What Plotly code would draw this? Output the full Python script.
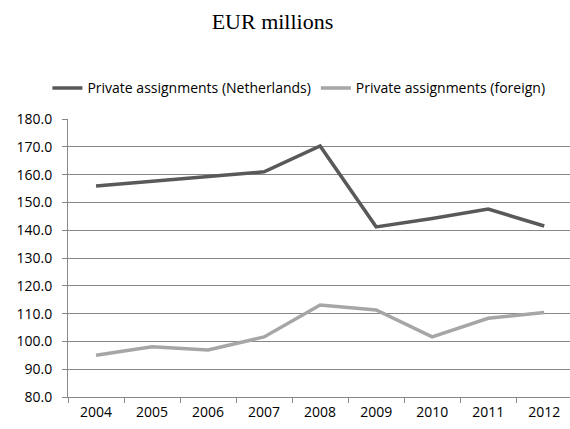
import plotly.graph_objects as go

years = ["2004", "2005", "2006", "2007", "2008", "2009", "2010", "2011", "2012"]
netherlands = [155.9, 157.6, 159.3, 161.0, 170.3, 141.2, 144.2, 147.6, 141.5]
foreign = [95.0, 98.1, 96.9, 101.6, 113.1, 111.3, 101.6, 108.3, 110.4]

series_names = ["Private assignments (Netherlands)", "Private assignments (foreign)"]
series_colors = ["#595959", "#a6a6a6"]

fig = go.Figure()
for name, vals, col in zip(series_names, [netherlands, foreign], series_colors):
    fig.add_trace(go.Scatter(
        x=years, y=vals, mode="lines", name=name,
        line=dict(color=col, width=3.5),
    ))

grid = "#878787"
fig.update_layout(
    width=570, height=429,
    margin=dict(l=68, r=0, t=119, b=32),
    paper_bgcolor="white", plot_bgcolor="white",
    title=dict(text="EUR millions", x=0.478, xanchor="center", y=0.95, yanchor="middle",
               font=dict(family="Liberation Serif", size=22, color="#000000")),
    font=dict(family="Open Sans", size=14, color="#000000"),
    legend=dict(orientation="h", x=0.46, xanchor="center", y=1.11, yanchor="middle",
                font=dict(size=14), itemwidth=30, tracegroupgap=0),
    showlegend=True,
)
fig.update_xaxes(
    type="category", range=[-0.5, 8.46],
    showline=True, linecolor=grid, linewidth=1,
    ticks="outside", tickson="boundaries", ticklen=5, tickcolor=grid,
    showgrid=False, zeroline=False, ticklabelstandoff=2,
)
fig.update_yaxes(
    range=[80, 180], dtick=10, tickformat=".1f",
    showline=True, linecolor=grid, linewidth=1,
    ticks="outside", ticklen=5, tickcolor=grid,
    showgrid=True, gridcolor=grid, gridwidth=1, zeroline=False,
    ticklabelstandoff=7,
)

fig.write_html("out.html")
